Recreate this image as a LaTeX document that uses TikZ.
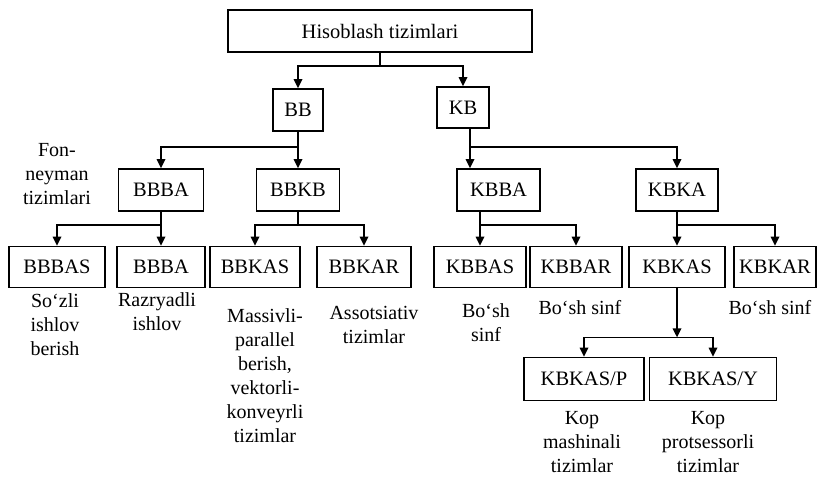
\documentclass[tikz,border=0pt]{standalone}
\usepackage{fontspec}
\setmainfont{Liberation Serif}
\usetikzlibrary{arrows.meta}

\begin{document}
\begin{tikzpicture}[
  x=1pt,y=-1pt,
  >={Triangle[length=9pt,width=8.5pt]},
  box/.style={draw,line width=1.7pt,minimum height=42pt,inner sep=2pt,
    font=\fontsize{20.5}{24}\selectfont},
  txt/.style={align=center,inner sep=0pt,font=\fontsize{20}{24}\selectfont},
  flow/.style={->,line width=1.7pt}
]
  \useasboundingbox (0,0) rectangle (818,476);

  % root and first level
  \node[box,minimum width=304pt] (hisob) at (380,31) {Hisoblash tizimlari};
  \node[box,minimum width=50pt] (bb) at (298,110) {BB};
  \node[box,minimum width=52pt,minimum height=41pt] (kb) at (463,107.5) {KB};

  % second level
  \node[box,minimum width=85pt] (bbba) at (161,190) {BBBA};
  \node[box,minimum width=83pt] (bbkb) at (298,190) {BBKB};
  \node[box,minimum width=83pt] (kbba) at (498.5,190) {KBBA};
  \node[box,minimum width=82pt] (kbka) at (677,190) {KBKA};

  % third level
  \node[box,minimum width=96pt,minimum height=41pt] (bbbas) at (57,267) {BBBAS};
  \node[box,minimum width=88pt,minimum height=41pt] (bbbar) at (161,267) {BBBA};
  \node[box,minimum width=90pt,minimum height=41pt] (bbkas) at (255,267) {BBKAS};
  \node[box,minimum width=94pt,minimum height=41pt] (bbkar) at (364,267) {BBKAR};
  \node[box,minimum width=92pt,minimum height=41pt] (kbbas) at (480,267) {KBBAS};
  \node[box,minimum width=92pt,minimum height=41pt] (kbbar) at (576,267) {KBBAR};
  \node[box,minimum width=96pt,minimum height=41pt] (kbkas) at (677,267) {KBKAS};
  \node[box,minimum width=82pt,minimum height=41pt] (kbkar) at (775,267) {KBKAR};

  % fourth level
  \node[box,minimum width=120pt,minimum height=43pt] (kbkasp) at (584,379) {KBKAS/P};
  \node[box,minimum width=127pt,minimum height=43pt] (kbkasy) at (713,379) {KBKAS/Y};

  % captions
  \node[txt] (fon) at (57,174) {Fon-\\neyman\\tizimlari};
  \node[txt] (sozli) at (55,325) {So‘zli\\ishlov\\berish};
  \node[txt] (razr) at (157,312) {Razryadli\\ishlov};
  \node[txt] (massiv) at (265,376) {Massivli-\\parallel\\berish,\\vektorli-\\konveyrli\\tizimlar};
  \node[txt] (assot) at (374,325) {Assotsiativ\\tizimlar};
  \node[txt] (bosh1) at (486,323) {Bo‘sh\\sinf};
  \node[txt] (bosh2) at (580,308) {Bo‘sh sinf};
  \node[txt] (bosh3) at (770,308) {Bo‘sh sinf};
  \node[txt] (kopm) at (582,442) {Kop\\mashinali\\tizimlar};
  \node[txt] (kopp) at (708,442) {Kop\\protsessorli\\tizimlar};

  % connectors
  \draw[flow] (hisob.south) -- ++(0,13) -| (bb);
  \draw[flow] (hisob.south) -- ++(0,13) -| (kb);
  \draw[flow] (bb.south) -- ++(0,15) -| (bbba);
  \draw[flow] (bb.south) -- ++(0,15) -| (bbkb);
  \draw[flow] ([xshift=7pt]kb.south) -- ++(0,18) -| ([xshift=-28.5pt]kbba.north);
  \draw[flow] ([xshift=7pt]kb.south) -- ++(0,18) -| (kbka);
  \draw[flow] (bbba.south) -- ++(0,13) -| (bbbas);
  \draw[flow] (bbba.south) -- ++(0,13) -| (bbbar);
  \draw[flow] (bbkb.south) -- ++(0,13) -| (bbkas);
  \draw[flow] (bbkb.south) -- ++(0,13) -| (bbkar);
  \draw[flow] ([xshift=-18.5pt]kbba.south) -- ++(0,13) -| (kbbas);
  \draw[flow] ([xshift=-18.5pt]kbba.south) -- ++(0,13) -| (kbbar);
  \draw[flow] (kbka.south) -- ++(0,13) -| (kbkas);
  \draw[flow] (kbka.south) -- ++(0,13) -| (kbkar);
  \draw[flow] (kbkas.south) -- ++(0,49) coordinate (kbj);
  \draw[flow] (kbj) -| (kbkasp);
  \draw[flow] (kbj) -| (kbkasy);
\end{tikzpicture}
\end{document}
